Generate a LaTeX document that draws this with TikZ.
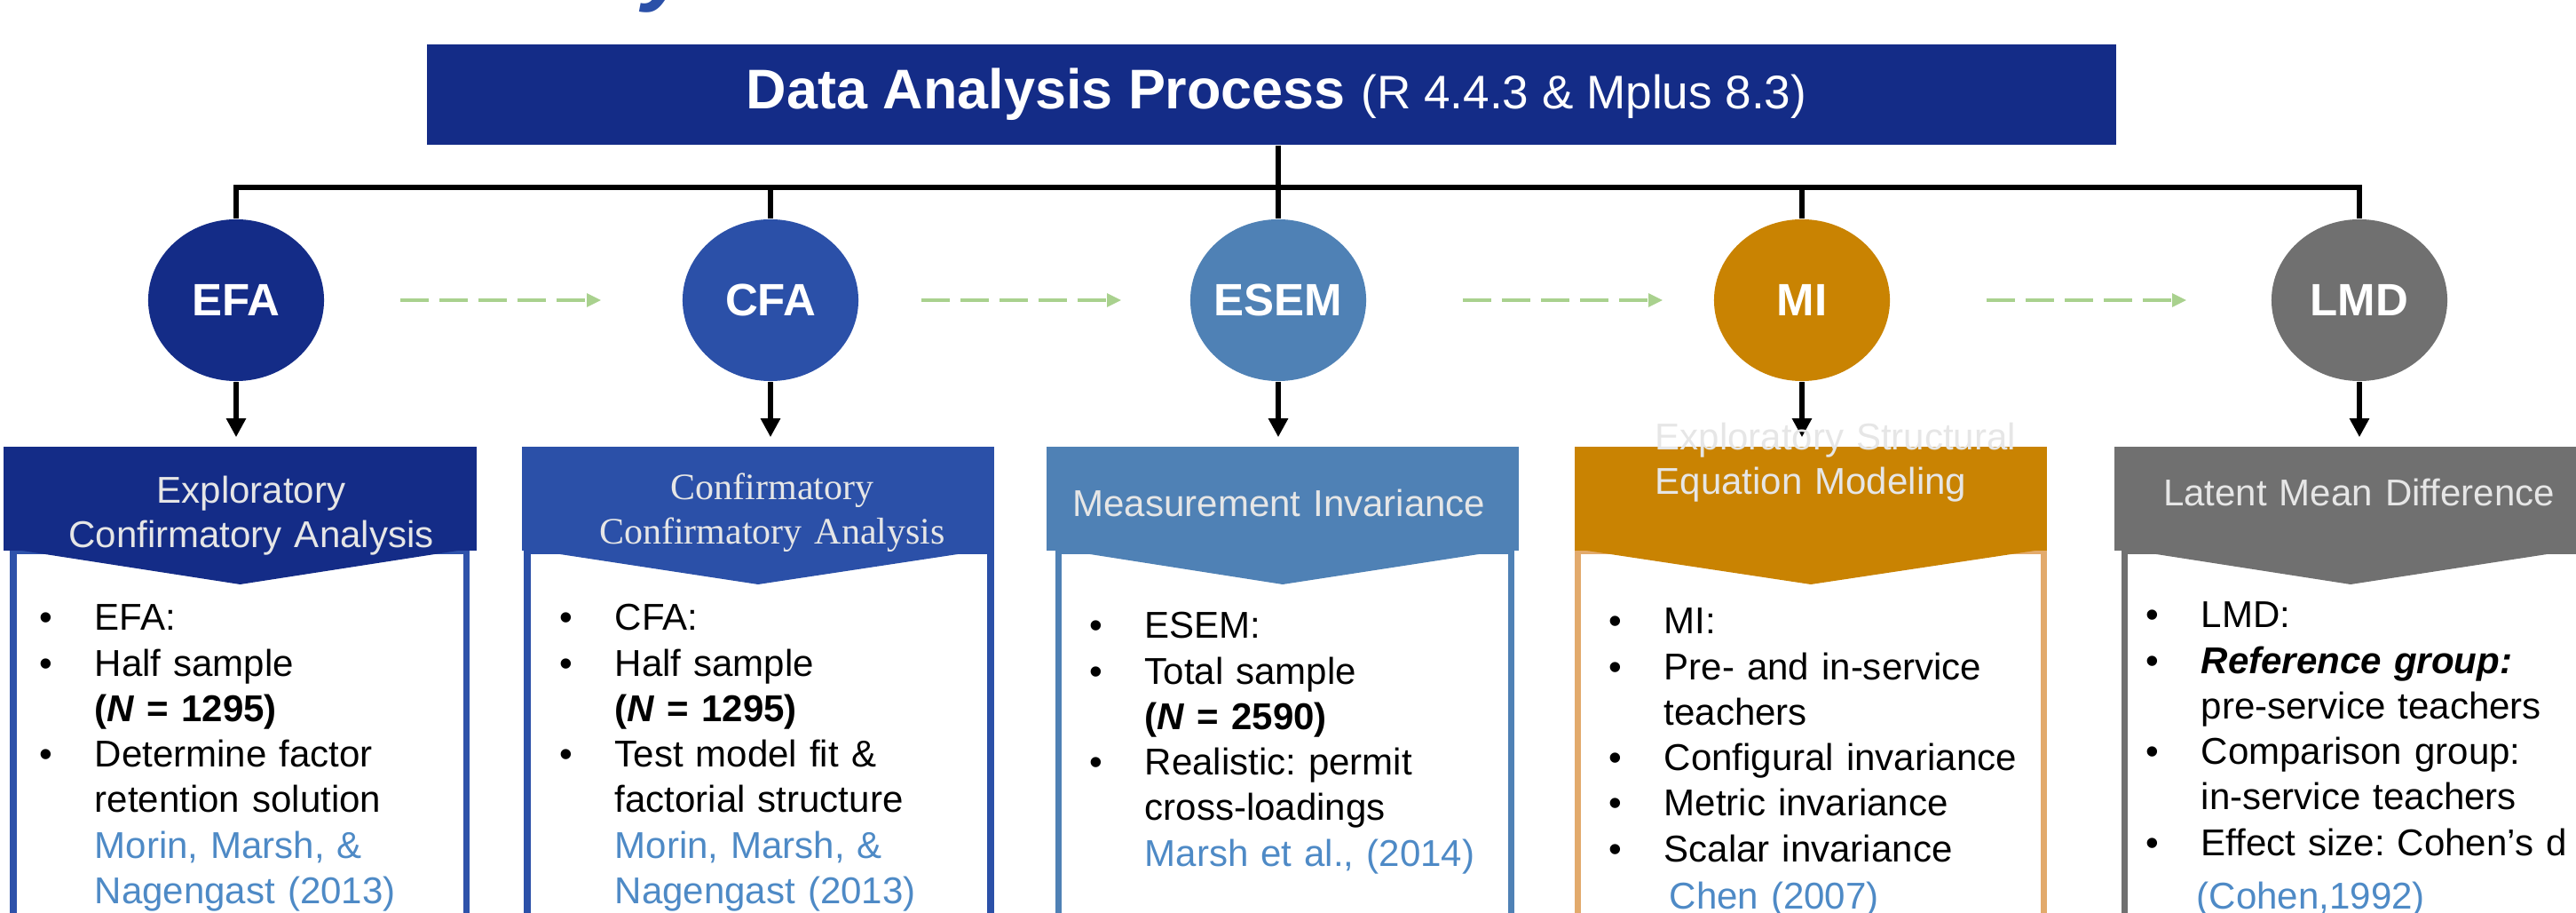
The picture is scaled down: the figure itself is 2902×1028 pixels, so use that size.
\documentclass[tikz,border=0pt]{standalone}
\usepackage{fontspec}
\setmainfont{Liberation Sans}
\newfontfamily\serifface{Liberation Serif}
\usetikzlibrary{shapes.geometric,arrows.meta}
\definecolor{cEFA}{HTML}{142C87}
\definecolor{cCFA}{HTML}{2B50A8}
\definecolor{cESEM}{HTML}{4F81B5}
\definecolor{cMI}{HTML}{C98302}
\definecolor{cLMD}{HTML}{707070}
\definecolor{fEFA}{HTML}{2E52AA}
\definecolor{fMI}{HTML}{E2AA6C}
\definecolor{arrowgreen}{HTML}{A9D18E}
\definecolor{citeblue}{HTML}{4E8AC6}
\definecolor{hdrtext}{HTML}{E6E6E6}
\newcommand\bitem{\makebox[17.8pt][l]{•}}
\newcommand\bindent{\hspace*{17.8pt}}
\newcommand\cit[1]{\textcolor{citeblue}{#1}}
\frenchspacing
\begin{document}
\begin{tikzpicture}[x=0.01cm,y=-0.01cm,
  stage/.style={ellipse, inner sep=0pt, minimum width=1.98cm, minimum height=1.82cm},
  stagelbl/.style={text=white, inner sep=0pt, font=\fontsize{14.5pt}{17pt}\selectfont\bfseries},
  hdr/.style={rectangle, inner sep=0pt, minimum width=5.32cm, minimum height=1.17cm},
  conn/.style={line width=1.7pt, black},
  downarrow/.style={conn, -{Triangle[length=6pt,width=6pt]}, shorten >=2.85pt},
  flow/.style={arrowgreen, line width=1pt, dash pattern=on 9.25pt off 3.27pt, -{Triangle[length=4.6pt,width=4.2pt]}},
  hdrtxt/.style={text=hdrtext, inner sep=0pt, text width=5.2cm, font=\fontsize{11.95pt}{14.2pt}\selectfont},
  body/.style={anchor=base west, inner sep=0pt, text width=5.2cm, align=left, font=\fontsize{11.95pt}{14.57pt}\selectfont},
  framebox/.style={line width=2pt, fill=white},
]
\useasboundingbox (0,0) rectangle (2902,1028);
\clip (0,0) rectangle (2902,1028);

% cropped title glyph at the top edge
\node[anchor=base west, inner sep=0pt, text=cCFA, font=\fontsize{28.5pt}{30pt}\selectfont\bfseries\itshape] (toptitle) at (724,-6) {y};

% title bar
\node[rectangle, inner sep=0pt, fill=cEFA, minimum width=19.01cm, minimum height=1.13cm] (title) at (1432.5,106.5) {};
\node[anchor=base, inner sep=0pt, text=white] (titletxt) at (1438,122.7)
  {\fontsize{17.9pt}{20pt}\selectfont\bfseries Data Analysis Process \fontsize{15.1pt}{18pt}\selectfont\mdseries(R 4.4.3 \& Mplus 8.3)};

% stage circles
\node[stage, fill=cEFA, label={[stagelbl]center:EFA}] (efa) at (266,338) {};
\node[stage, fill=cCFA, label={[stagelbl]center:CFA}] (cfa) at (868,338) {};
\node[stage, fill=cESEM, label={[stagelbl]center:ESEM}] (esem) at (1440,338) {};
\node[stage, fill=cMI, label={[stagelbl]center:MI}] (mi) at (2030,338) {};
\node[stage, fill=cLMD, label={[stagelbl]center:LMD}] (lmd) at (2658,338) {};

% tree connectors
\coordinate (bar) at (0,211);
\draw[conn] (efa.north) -- (efa.north |- bar) -- (lmd.north |- bar) -- (lmd.north);
\draw[conn] (cfa.north) -- (cfa.north |- bar);
\draw[conn] (mi.north) -- (mi.north |- bar);
\draw[conn] (esem.north |- title.south) -- (esem.north);

% green flow arrows
\draw[flow, shorten <=0.85cm, shorten >=0.91cm] (efa) -- (cfa);
\draw[flow, shorten <=0.70cm, shorten >=0.77cm] (cfa) -- (esem);
\draw[flow, shorten <=1.08cm, shorten >=0.57cm] (esem) -- (mi);
\draw[flow, shorten <=1.08cm, shorten >=0.95cm] (mi) -- (lmd);

% body frames
\draw[framebox, draw=fEFA] (15,620) rectangle (525.5,1045);
\draw[framebox, draw=cCFA] (594,620) rectangle (1116,1045);
\draw[framebox, draw=cESEM] (1192.5,620) rectangle (1702,1045);
\draw[framebox, draw=fMI] (1777.5,620) rectangle (2302.5,1045);
\draw[framebox, draw=cLMD] (2393,620) rectangle (2906,1045);

% header bars
\node[hdr, fill=cEFA] (h1) at (270.5,561.5) {};
\node[hdr, fill=cCFA] (h2) at (854,561.5) {};
\node[hdr, fill=cESEM] (h3) at (1445,561.5) {};
\node[hdr, fill=cMI] (h4) at (2040,561.5) {};
\node[hdr, fill=cLMD] (h5) at (2648,561.5) {};

% chevrons
\fill[cEFA] (18.5,619) -- (270.5,658) -- (522,619) -- cycle;
\fill[cCFA] (598,619) -- (854,658) -- (1112,619) -- cycle;
\fill[cESEM] (1196,619) -- (1445,658) -- (1698.5,619) -- cycle;
\fill[cMI] (1781,619) -- (2040,658) -- (2299,619) -- cycle;
\fill[cLMD] (2397,619) -- (2648,658) -- (2902,619) -- cycle;

% down arrows
\draw[downarrow] (efa.south) -- (efa.south |- h1.north);
\draw[downarrow] (cfa.south) -- (cfa.south |- h2.north);
\draw[downarrow] (esem.south) -- (esem.south |- h3.north);
\draw[downarrow] (mi.south) -- (mi.south |- h4.north);
\draw[downarrow] (lmd.south) -- (lmd.south |- h5.north);

% header texts
\node[hdrtxt, align=center, anchor=base] (h1t) at (283,567) {Exploratory\\Confirmatory Analysis};
\node[hdrtxt, align=center, anchor=base, font=\fontsize{11.95pt}{14.2pt}\selectfont\serifface] (h2t) at (870,563) {Confirmatory\\Confirmatory Analysis};
\node[hdrtxt, align=center, anchor=base] (h3t) at (1441,582) {Measurement Invariance};
\node[hdrtxt, align=left, anchor=base west] (h4t) at (1864,507) {Exploratory Structural\\Equation Modeling};
\node[hdrtxt, align=center, anchor=base] (h5t) at (2657.5,570) {Latent Mean Difference};

% body texts
\node[body] (b1) at (43.5,710) {\bitem EFA:\\
\bitem Half sample\\
\bindent\textbf{(\textit{N} = 1295)}\\
\bitem Determine factor\\
\bindent retention solution\\
\bindent\cit{Morin, Marsh, \&}\\
\bindent\cit{Nagengast (2013)}};

\node[body] (b2) at (629.5,710) {\bitem CFA:\\
\bitem Half sample\\
\bindent\textbf{(\textit{N} = 1295)}\\
\bitem Test model fit \&\\
\bindent factorial structure\\
\bindent\cit{Morin, Marsh, \&}\\
\bindent\cit{Nagengast (2013)}};

\node[body] (b3) at (1226.5,719) {\bitem ESEM:\\
\bitem Total sample\\
\bindent\textbf{(\textit{N} = 2590)}\\
\bitem Realistic: permit\\
\bindent cross-loadings\\
\bindent\cit{Marsh et al., (2014)}};

\node[body] (b4) at (1811.5,714) {\bitem MI:\\
\bitem Pre- and in-service\\
\bindent teachers\\
\bitem Configural invariance\\
\bitem Metric invariance\\
\bitem Scalar invariance\\[0.6pt]
\hspace*{19.5pt}\cit{Chen (2007)}};

\node[body] (b5) at (2416.5,707) {\bitem LMD:\\
\bitem \textbf{\textit{Reference group:}}\\
\bindent pre-service teachers\\
\bitem Comparison group:\\
\bindent in-service teachers\\
\bitem Effect size: Cohen’s d\\[2.6pt]
\hspace*{16.4pt}\cit{(Cohen,1992)}};
\end{tikzpicture}
\end{document}
